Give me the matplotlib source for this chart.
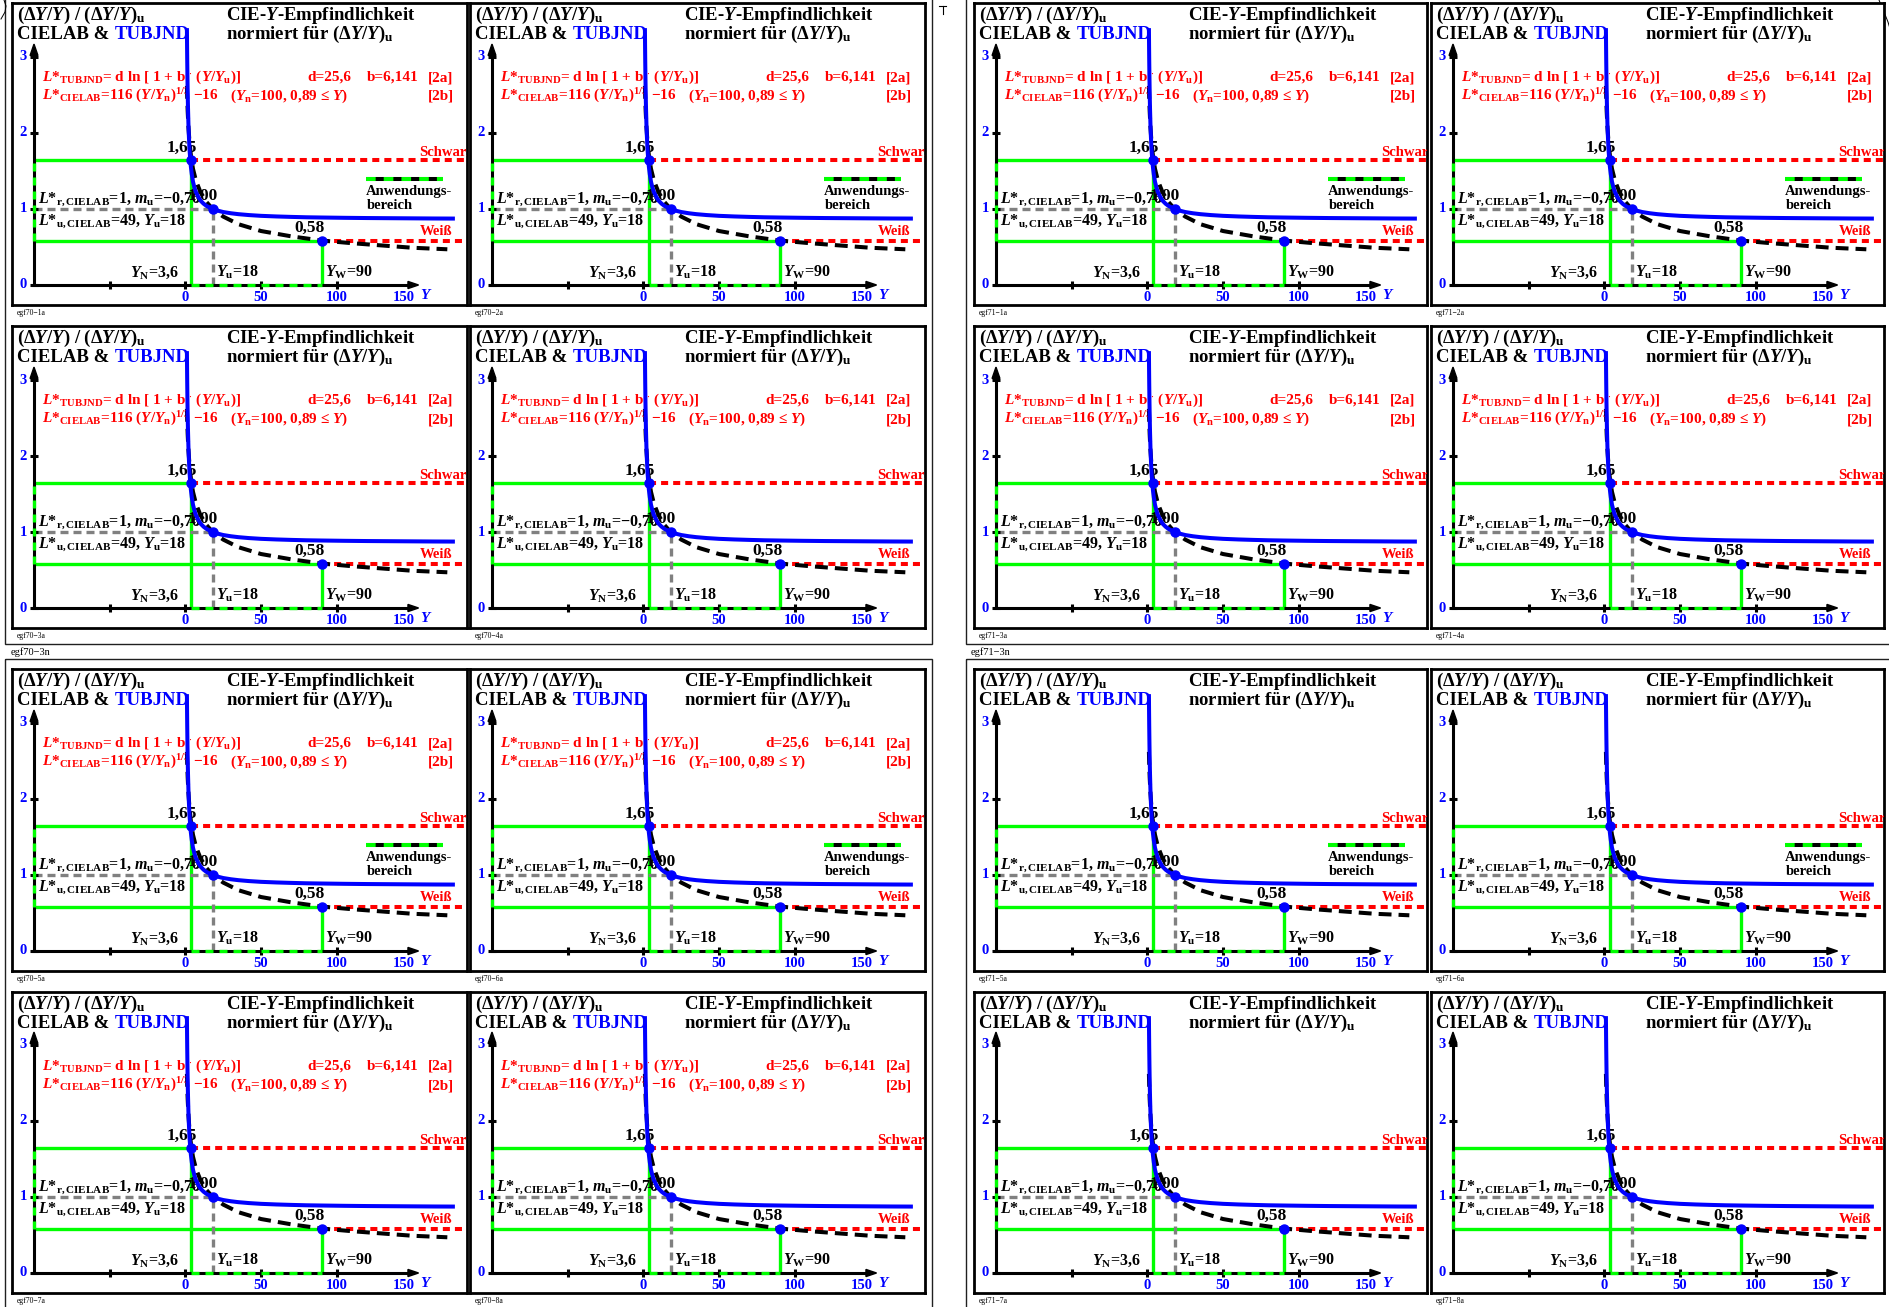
import matplotlib
matplotlib.use('Agg')
import matplotlib.pyplot as plt
from matplotlib.patches import Polygon, Rectangle

plt.rcParams['font.family'] = ['Liberation Serif', 'DejaVu Serif']
plt.rcParams['font.weight'] = 'bold'
plt.rcParams['mathtext.fontset'] = 'custom'
plt.rcParams['mathtext.rm'] = 'Liberation Serif:bold'
plt.rcParams['mathtext.it'] = 'Liberation Serif:italic:bold'
plt.rcParams['mathtext.bf'] = 'Liberation Serif:bold'
plt.rcParams['mathtext.sf'] = 'Liberation Serif:bold'

# ---------------- data ----------------
# TUBJND relative sensitivity (blue curve)
Y_tub = [1.0, 1.1, 1.2, 1.35, 1.5, 1.7, 2.0, 2.3, 2.7, 3.2, 3.6, 4.2, 5, 6, 7, 8.5,
         10, 12, 14, 16, 18, 21, 25, 30, 35, 42, 50, 60, 70, 80, 90, 105, 120,
         135, 150, 165, 178]
R_tub = [3.38, 3.15, 2.96, 2.73, 2.54, 2.34, 2.12, 1.96, 1.79, 1.65, 1.56, 1.46,
         1.36, 1.28, 1.22, 1.16, 1.11, 1.07, 1.04, 1.02, 1.00, 0.98, 0.96, 0.944,
         0.932, 0.92, 0.91, 0.902, 0.896, 0.891, 0.888, 0.884, 0.881, 0.879,
         0.877, 0.875, 0.874]
# CIELAB relative sensitivity (black dashed curve)
Y_lab = [1.0, 1.2, 1.5, 2.0, 2.6, 3.6, 5, 7, 10, 14, 18, 25, 35, 50, 70, 90,
         110, 130, 150, 173]
R_lab = [2.62, 2.47, 2.29, 2.08, 1.91, 1.71, 1.53, 1.37, 1.22, 1.09, 1.00, 0.90,
         0.80, 0.71, 0.64, 0.585, 0.55, 0.52, 0.49, 0.47]
# reference points: black (N), mid (u), white (W)
ref_Y = [3.6, 18, 90]
ref_R = [1.65, 1.00, 0.58]
ref_labels = ['1,65', '1,00', '0,58']
Y_axis0 = -100
x_tick_marks = [-50, 0, 50, 100]
x_label_pos = [0, 50, 100, 150]
x_label_txt = ['0', '50', '100', '150']
y_ticks = [0, 1, 2, 3]
y_label_txt = ['0', '1', '2', '3']
legend_Y = [119.5, 170]
legend_R = 1.39

# ---------------- layout (pixels) ----------------
W, H = 1890, 1307
col_px = [(12, 467), (470, 925), (974, 1427), (1431, 1884)]
row_px = [(3, 305), (326, 628), (669, 971), (992, 1293)]
SX = 1.514   # px per Y unit
SY = 76.0    # px per ratio unit

BLUE = '#0000ff'
RED = '#ff0000'
GREEN = '#00ff00'
GRAY = '#808080'

fig = plt.figure(figsize=(W / 100, H / 100), dpi=100)
bg = fig.add_axes([0, 0, 1, 1])
bg.set_xlim(0, W)
bg.set_ylim(H, 0)
bg.axis('off')

# block frames
for (l, t, r, b) in [(5, -20, 932, 644), (966, -20, 1950, 644),
                     (5, 659, 932, 1330), (966, 659, 1950, 1330)]:
    bg.add_patch(Rectangle((l, t), r - l, b - t, fill=False, lw=1.0,
                           edgecolor='#202020', clip_on=False))
bg.text(11, 652, 'egf70\u22123n', fontsize=7.5, fontweight='normal', va='center', ha='left')
bg.text(971, 652, 'egf71\u22123n', fontsize=7.5, fontweight='normal', va='center', ha='left')
bg.plot([939, 946], [6, 6], color='k', lw=0.8)
bg.plot([942.5, 942.5], [6, 14], color='k', lw=0.8)
bg.plot([1879, 1884, 1888, 1891], [0, 12, 22, 32], color='k', lw=0.7)
bg.plot([1, 5, 6, 4], [19, 12, 6, 0], color='k', lw=0.7)


def draw_panel(l, t, r, b, name, show_legend, show_formula):
    w, h = r - l, b - t
    ax = fig.add_axes([l / W, 1 - b / H, w / W, h / H])
    X0 = Y_axis0 - 22 / SX
    X1 = X0 + w / SX
    V0 = -20 / SY
    V1 = V0 + h / SY
    ax.set_xlim(X0, X1)
    ax.set_ylim(V0, V1)
    ax.set_xticks([])
    ax.set_yticks([])
    for s in ax.spines.values():
        s.set_linewidth(2.0)
        s.set_color('k')

    def PX(p):
        return X0 + p / SX

    def PY(q):
        return V1 - q / SY

    yN, yu, yW = ref_Y
    rN, ru, rW = ref_R

    # green frame lines
    gk = dict(color=GREEN, lw=2.4, solid_capstyle='butt', zorder=2)
    ax.plot([Y_axis0, yN], [rN, rN], **gk)
    ax.plot([Y_axis0, yW], [rW, rW], **gk)
    ax.plot([yN, yN], [0, rN], **gk)
    ax.plot([yW, yW], [0, rW], **gk)

    # gray dashed lines
    gr = dict(color=GRAY, lw=2.4, linestyle=(0, (2.4, 1.5)), zorder=2)
    ax.plot([Y_axis0, yu], [ru, ru], **gr)
    ax.plot([yu, yu], [0, ru], **gr)

    # red dashed lines
    rd = dict(color=RED, lw=2.9, linestyle=(0, (1.75, 1.25)), zorder=3)
    ax.plot([yN, X1], [rN, rN], **rd)
    ax.plot([yW, X1], [rW, rW], **rd)

    # axes lines
    ak = dict(color='k', lw=2.2, solid_capstyle='butt', zorder=3)
    ax.plot([Y_axis0, Y_axis0], [0, 3.03], **ak)
    ax.plot([Y_axis0 - 1, 148], [0, 0], **ak)
    ax.add_patch(Polygon([(Y_axis0, 3.17), (Y_axis0 - 2.6, 3.02), (Y_axis0 + 2.6, 3.02)],
                         closed=True, color='k', zorder=3))
    ax.add_patch(Polygon([(154, 0), (147, 0.047), (147, -0.047)],
                         closed=True, color='k', zorder=3))
    for v in y_ticks:
        ax.plot([Y_axis0 - 2.8, Y_axis0 + 2.6], [v, v], **ak)
    for tk in x_tick_marks:
        ax.plot([tk, tk], [-0.05, 0.05], **ak)

    # green/black "Anwendungsbereich" segments
    gd = dict(color=GREEN, lw=2.4, linestyle=(0, (2.4, 1.8)), zorder=4)
    ax.plot([Y_axis0, Y_axis0], [rW, rN], **gd)
    ax.plot([yN, yW], [0, 0], **gd)
    if show_legend:
        ax.plot(legend_Y, [legend_R, legend_R], color='k', lw=2.9,
                solid_capstyle='butt', zorder=3)
        ax.plot(legend_Y, [legend_R, legend_R], color=GREEN, lw=2.9,
                linestyle=(0, (2.4, 2.0)), zorder=4)
        ax.text(legend_Y[0], 1.18, 'Anwendungs-', fontsize=10.5, ha='left', va='baseline', zorder=5)
        ax.text(legend_Y[0], 1.00, 'bereich', fontsize=10.5, ha='left', va='baseline', zorder=5)

    # curves
    ax.plot(Y_lab, R_lab, color='k', lw=2.9, linestyle=(0, (3.2, 1.75)), zorder=4)
    ax.plot(Y_tub, R_tub, color=BLUE, lw=2.9, zorder=6, solid_capstyle='butt')
    ax.plot(ref_Y, ref_R, 'o', color=BLUE, markersize=6.5, zorder=7)

    # tick labels
    for v, s in zip(y_ticks, y_label_txt):
        ax.text(PX(15), v, s, color=BLUE, fontsize=10.5, ha='right', va='center')
    for xp, s in zip(x_label_pos, x_label_txt):
        if s == '150':
            ax.text(151.5, -0.21, s, color=BLUE, fontsize=10.5, ha='right', va='baseline')
        else:
            ax.text(xp, -0.21, s, color=BLUE, fontsize=10.5, ha='center', va='baseline')
    ax.text(155, -0.19, '$Y$', color=BLUE, fontsize=11, ha='left', va='baseline')

    # titles
    tk_ = dict(fontsize=13.5, ha='left', va='baseline', zorder=5)
    ax.text(PX(5), PY(17), r'$(\Delta Y/Y)$ / $(\Delta Y/Y)_\mathrm{u}$', **tk_)
    ax.text(PX(5), PY(36), 'CIELAB & ', **tk_)
    ax.text(PX(103), PY(36), 'TUBJND', color=BLUE, **tk_)
    ax.text(PX(214), PY(17), r'CIE-$Y$-Empfindlichkeit', **tk_)
    ax.text(PX(214), PY(36), r'normiert für $(\Delta Y/Y)_\mathrm{u}$', **tk_)

    # red formulas
    if show_formula:
        rk = dict(fontsize=11, color=RED, ha='left', va='baseline', zorder=5)
        ax.text(PX(30), PY(78),
                r'$L$*$_\mathrm{TUBJND}$= d ln [ 1 + b $^{\cdot}$ ($Y/Y_\mathrm{u}$)]', **rk)
        ax.text(PX(295), PY(78), 'd=25,6', **rk)
        ax.text(PX(355), PY(78), 'b=6,141', **rk)
        ax.text(PX(416), PY(78), '[2a]', **rk)
        ax.text(PX(30), PY(97),
                r'$L$*$_\mathrm{CIELAB}$=116 ($Y/Y_\mathrm{n}$)$^\mathrm{1/3}$ \u221216'.replace('\\u2212', '\u2212'),
                **rk)
        ax.text(PX(218), PY(97), r'($Y_\mathrm{n}$=100, 0,89 ≤ $Y$)', **rk)
        ax.text(PX(416), PY(97), '[2b]', **rk)

    # black annotations
    bk = dict(fontsize=11.5, color='k', ha='left', va='baseline', zorder=5)
    ax.text(-12.5, 1.75, ref_labels[0], fontsize=12.5, ha='left', va='baseline', zorder=5)
    ax.text(1.3, 1.12, ref_labels[1], fontsize=12.5, ha='left', va='baseline', zorder=5)
    ax.text(72, 0.70, ref_labels[2], fontsize=12.5, ha='left', va='baseline', zorder=5)
    ax.text(-97.4, 1.09, '$L$*$_\\mathrm{r,CIELAB}$=1, $m_\\mathrm{u}$=\u22120,76', **bk)
    ax.text(-97.4, 0.80, '$L$*$_\\mathrm{u,CIELAB}$=49, $Y_\\mathrm{u}$=18', **bk)
    ax.text(-4, 0.105, r'$Y_\mathrm{N}$=3,6', fontsize=11.5, ha='right', va='baseline', zorder=5)
    ax.text(20.5, 0.105, r'$Y_\mathrm{u}$=18', **bk)
    ax.text(92.5, 0.105, r'$Y_\mathrm{W}$=90', **bk)
    ax.text(154.6, 1.70, 'Schwarz', fontsize=10.5, color=RED, ha='left', va='baseline',
            clip_on=True, zorder=5)
    ax.text(155, 0.66, 'Weiß', fontsize=10.5, color=RED, ha='left', va='baseline',
            clip_on=True, zorder=5)

    # panel label
    bg.text(l + 5, b + 8, name, fontsize=5.5, fontweight='normal', ha='left', va='center')


for blk, cols in (('70', (0, 1)), ('71', (2, 3))):
    for idx in range(1, 9):
        row = (idx - 1) // 2
        col = cols[(idx - 1) % 2]
        l, r = col_px[col]
        t, b = row_px[row]
        legend = idx in (1, 2, 5, 6)
        formula = not (blk == '71' and idx >= 5)
        draw_panel(l, t, r, b, 'egf' + blk + '\u2212' + str(idx) + 'a', legend, formula)

fig.savefig('out.png', dpi=100)
